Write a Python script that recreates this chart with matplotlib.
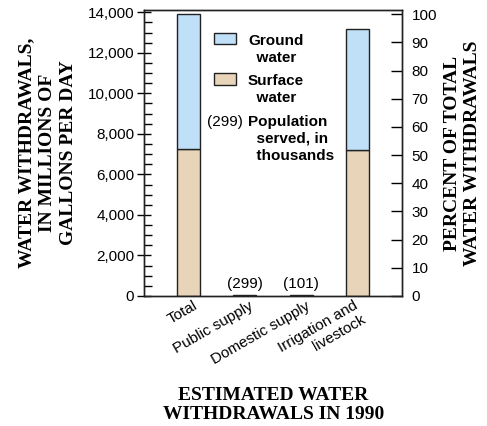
import numpy as np
import matplotlib
matplotlib.use("Agg")
import matplotlib.pyplot as plt
from matplotlib.patches import Rectangle
from matplotlib.transforms import ScaledTranslation

# categorias e valores (milhoes de galoes por dia)
categories = ["Total", "Public supply", "Domestic supply", "Irrigation and\nlivestock"]
surface = [7250, 20, 0, 7200]
ground = [6650, 45, 30, 5950]
population = [None, "(299)", "(101)", None]

blue = "#bfe0f7"
tan = "#e8d5b9"
edge = "#222222"

fig = plt.figure(figsize=(4.87, 4.26), dpi=100)
ax = fig.add_axes([0.2957, 0.3052, 0.5298, 0.6713])

x = np.arange(len(categories))
w = 0.41
ax.bar(x, surface, w, color=tan, edgecolor=edge, linewidth=1.0)
ax.bar(x, ground, w, bottom=surface, color=blue, edgecolor=edge, linewidth=1.0)

totals = np.array(surface) + np.array(ground)
ymax = 14110
ax.set_xlim(-0.8, 3.8)
ax.set_ylim(0, ymax)

for i, p in enumerate(population):
    if p:
        ax.text(x[i], totals[i] + 200, p, ha="center", va="bottom",
                fontsize=11, family="Liberation Sans")

# eixo esquerdo
ax.set_yticks(np.arange(0, 14001, 2000))
ax.set_yticks(np.arange(0, 14001, 500), minor=True)
ax.set_yticklabels(["{:,}".format(v) for v in range(0, 14001, 2000)],
                   fontsize=11, family="Liberation Sans")
ax.tick_params(axis="y", which="major", direction="inout", length=10, width=1, pad=2)
ax.tick_params(axis="y", which="minor", direction="in", length=6, width=1)

ax.set_xticks(x)
ax.set_xticklabels(categories, rotation=30, ha="right", fontsize=11,
                   family="Liberation Sans", linespacing=1.15)
ax.tick_params(axis="x", length=0, pad=2)
off = ScaledTranslation(11 / 100, 0, fig.dpi_scale_trans)
for lab in ax.get_xticklabels():
    lab.set_transform(lab.get_transform() + off)

# eixo direito (percentual)
ax2 = ax.twinx()
ax2.set_ylim(0, ymax / totals[0] * 100)
ax2.set_yticks(np.arange(0, 101, 10))
ax2.set_yticklabels([str(v) for v in range(0, 101, 10)],
                    fontsize=11, family="Liberation Sans")
ax2.tick_params(axis="y", direction="in", length=8, width=1, pad=7)

for a in (ax, ax2):
    for s in a.spines.values():
        s.set_linewidth(1.0)
        s.set_color(edge)

serif = dict(family="Liberation Serif", fontweight="bold", fontsize=14)
ax.set_ylabel("WATER WITHDRAWALS,\nIN MILLIONS OF\nGALLONS PER DAY",
              linespacing=1.3, labelpad=8, **serif)
ax2.set_ylabel("PERCENT OF TOTAL\nWATER WITHDRAWALS", rotation=90,
               linespacing=1.25, labelpad=5, **serif)
fig.text(0.561, 0.049, "ESTIMATED WATER\nWITHDRAWALS IN 1990", ha="center",
         va="center", linespacing=1.2, **serif)

# legenda
sans_b = dict(family="Liberation Sans", fontweight="bold", fontsize=11)
ax.add_patch(Rectangle((0.2713, 0.880), 0.0853, 0.0406, transform=ax.transAxes,
                       facecolor=blue, edgecolor=edge, linewidth=1.0))
ax.add_patch(Rectangle((0.2713, 0.738), 0.0853, 0.043, transform=ax.transAxes,
                       facecolor=tan, edgecolor=edge, linewidth=1.0))
ax.text(0.403, 0.863, "Ground\n  water", transform=ax.transAxes, ha="left",
        va="center", linespacing=1.3, **sans_b)
ax.text(0.403, 0.7215, "Surface\n  water", transform=ax.transAxes, ha="left",
        va="center", linespacing=1.3, **sans_b)
ax.text(0.403, 0.5494, "Population\n  served, in\n  thousands", transform=ax.transAxes,
        ha="left", va="center", linespacing=1.3, **sans_b)
ax.text(0.384, 0.609, "(299)", transform=ax.transAxes, ha="right", va="center",
        fontsize=11, family="Liberation Sans")

fig.savefig("out.png", dpi=100)
